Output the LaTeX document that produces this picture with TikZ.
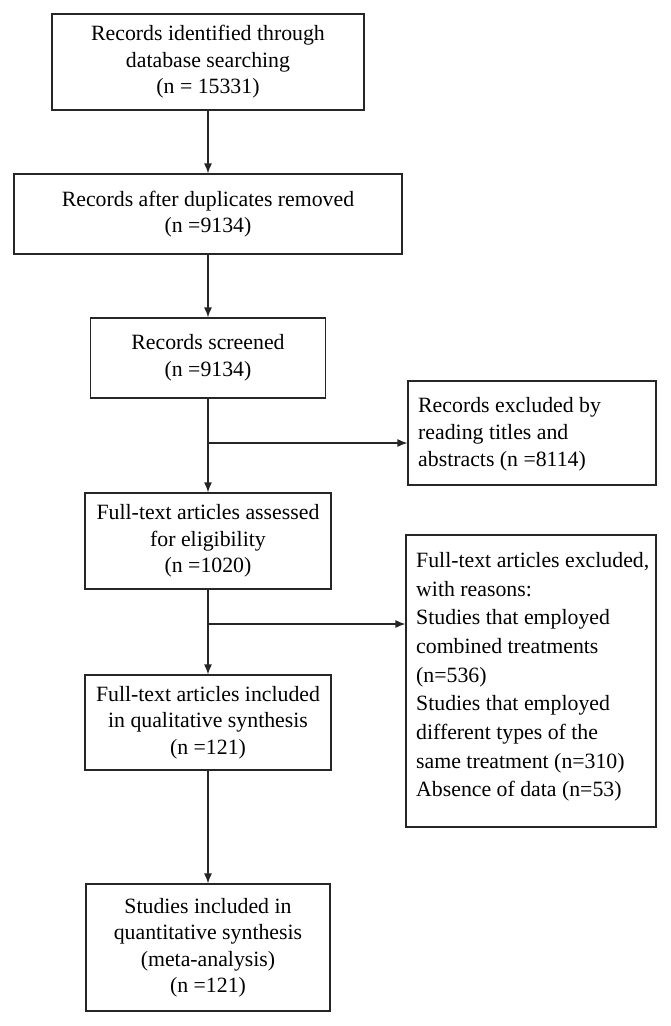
\documentclass[tikz,border=0pt]{standalone}
\usepackage{fontspec}
\setmainfont{Liberation Serif}
\usetikzlibrary{arrows.meta}
\begin{document}
\begin{tikzpicture}[x=1pt,y=-1pt,
  box/.style={draw=black!85, line width=1.2pt, align=center, inner sep=0pt,
    font=\fontsize{21.8}{26.5}\selectfont},
  sidebox/.style={draw=black!85, line width=1.2pt, inner sep=0pt},
  sidetext/.style={align=left, inner sep=0pt, anchor=north west},
  conn/.style={draw=black!85, line width=1.2pt, -{Latex[length=10pt,width=8pt]}},
]
\useasboundingbox (0,0) rectangle (671,1026);

\node[box, minimum width=312pt, minimum height=96pt] (b1) at (208,62)
  {Records identified through\\database searching\\(n = 15331)};
\node[box, minimum width=388pt, minimum height=80pt] (b2) at (208,214)
  {Records after duplicates removed\\(n =9134)};
\node[box, minimum width=235pt, minimum height=80pt] (b3) at (208,358)
  {Records screened\\(n =9134)};
\node[sidebox, minimum width=248pt, minimum height=104pt] (r1) at (532,433) {};
\node[sidetext, font=\fontsize{21.8}{27}\selectfont] (r1t) at (418,397)
  {Records excluded by\\reading titles and\\abstracts (n =8114)};
\node[box, minimum width=246pt, minimum height=96pt] (b4) at (208,541)
  {Full-text articles assessed\\for eligibility\\(n =1020)};
\node[sidebox, minimum width=250pt, minimum height=292pt] (r2) at (531,681) {};
\node[sidetext, font=\fontsize{21.8}{28.7}\selectfont] (r2t) at (416,552)
  {Full-text articles excluded,\\with reasons:\\Studies that employed\\combined treatments\\(n=536)\\Studies that employed\\different types of the\\same treatment (n=310)\\Absence of data (n=53)};
\node[box, minimum width=246pt, minimum height=95pt] (b5) at (208,722.5)
  {Full-text articles included\\in qualitative synthesis\\(n =121)};
\node[box, minimum width=244pt, minimum height=127pt] (b6) at (208,947.5)
  {Studies included in\\quantitative synthesis\\(meta-analysis)\\(n =121)};

\coordinate (j1) at (208,443);
\coordinate (j2) at (208,624);

\draw[conn] (b1) -- (b2);
\draw[conn] (b2) -- (b3);
\draw[conn] (b3) -- (b4);
\draw[conn] (j1) -- (j1 -| r1.west);
\draw[conn] (b4) -- (b5);
\draw[conn] (j2) -- (j2 -| r2.west);
\draw[conn] (b5) -- (b6);
\end{tikzpicture}
\end{document}
